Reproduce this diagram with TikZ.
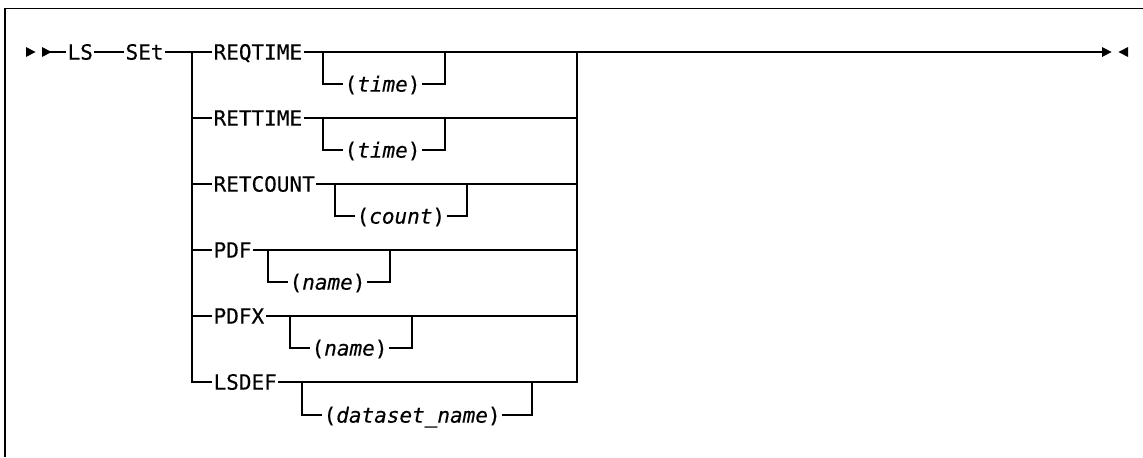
\documentclass[tikz,border=0pt]{standalone}
\usepackage{fontspec}
\setmonofont{DejaVu Sans Mono}[ItalicFont={DejaVu Sans Mono Oblique},FakeBold=0.4]
\usepackage{tikz}

\begin{document}
\begin{tikzpicture}[x=0.5pt,y=-0.5pt,
    kw_node/.style={inner xsep=0.6pt,inner ysep=0pt,text height=7.6pt,text depth=0pt,font=\fontsize{10.5}{12}\selectfont\ttfamily},
    var_node/.style={kw_node},
    rail/.style={draw,line width=1pt}]

    \useasboundingbox (0,0) rectangle (1143,457);
    \draw[line width=0.9pt] (5,457) -- (5,8.5) -- (1143,8.5);

    % start and end marks
    \fill (26,47) -- (35.5,52) -- (26,57) -- cycle;
    \fill (42,47) -- (51.5,52) -- (42,57) -- cycle;
    \fill (1102,47) -- (1111.5,52) -- (1102,57) -- cycle;
    \fill (1128,47) -- (1118.5,52) -- (1128,57) -- cycle;

    \coordinate (in) at (50,52);
    \coordinate (split) at (192,52);
    \coordinate (join) at (577,52);
    \coordinate (out) at (1103,52);

    \node[kw_node,anchor=west] (ls) at (66,52) {LS};
    \node[kw_node,anchor=west] (set) at (124,52) {SEt};

    \node[kw_node,anchor=west] (reqtime) at (212,52) {REQTIME};
    \node[kw_node,anchor=west] (rettime) at (212,118) {RETTIME};
    \node[kw_node,anchor=west] (retcount) at (212,184) {RETCOUNT};
    \node[kw_node,anchor=west] (pdf) at (212,250) {PDF};
    \node[kw_node,anchor=west] (pdfx) at (212,316) {PDFX};
    \node[kw_node,anchor=west] (lsdef) at (212,382) {LSDEF};

    \node[var_node,anchor=west] (reqtime_arg) at (343,84) {(\textit{time})};
    \node[var_node,anchor=west] (rettime_arg) at (343,150) {(\textit{time})};
    \node[var_node,anchor=west] (retcount_arg) at (355,216) {(\textit{count})};
    \node[var_node,anchor=west] (pdf_arg) at (288,282) {(\textit{name})};
    \node[var_node,anchor=west] (pdfx_arg) at (310,348) {(\textit{name})};
    \node[var_node,anchor=west] (lsdef_arg) at (322,415) {(\textit{dataset\_name})};

    \coordinate (reqtime_l) at (323,52);
    \coordinate (reqtime_r) at (445,52);
    \coordinate (rettime_l) at (323,118);
    \coordinate (rettime_r) at (445,118);
    \coordinate (retcount_l) at (335,184);
    \coordinate (retcount_r) at (467,184);
    \coordinate (pdf_l) at (268,250);
    \coordinate (pdf_r) at (390,250);
    \coordinate (pdfx_l) at (290,316);
    \coordinate (pdfx_r) at (412,316);
    \coordinate (lsdef_l) at (302,382);
    \coordinate (lsdef_r) at (532,382);

    % main line
    \path[rail] (in) -- (ls) (ls) -- (set) (set) -- (reqtime)
        (split) |- (lsdef)
        (split |- rettime) -- (rettime)
        (split |- retcount) -- (retcount)
        (split |- pdf) -- (pdf)
        (split |- pdfx) -- (pdfx);

    \path[rail] (reqtime) -- (reqtime -| join)
        (rettime) -- (rettime -| join)
        (retcount) -- (retcount -| join)
        (pdf) -- (pdf -| join)
        (pdfx) -- (pdfx -| join)
        (lsdef) -| (join) -- (out);

    % optional arguments
    \path[rail] (reqtime_l) |- (reqtime_arg) -- (reqtime_arg -| reqtime_r) -- (reqtime_r)
        (rettime_l) |- (rettime_arg) -- (rettime_arg -| rettime_r) -- (rettime_r)
        (retcount_l) |- (retcount_arg) -- (retcount_arg -| retcount_r) -- (retcount_r)
        (pdf_l) |- (pdf_arg) -- (pdf_arg -| pdf_r) -- (pdf_r)
        (pdfx_l) |- (pdfx_arg) -- (pdfx_arg -| pdfx_r) -- (pdfx_r)
        (lsdef_l) |- (lsdef_arg) -- (lsdef_arg -| lsdef_r) -- (lsdef_r);

\end{tikzpicture}
\end{document}
